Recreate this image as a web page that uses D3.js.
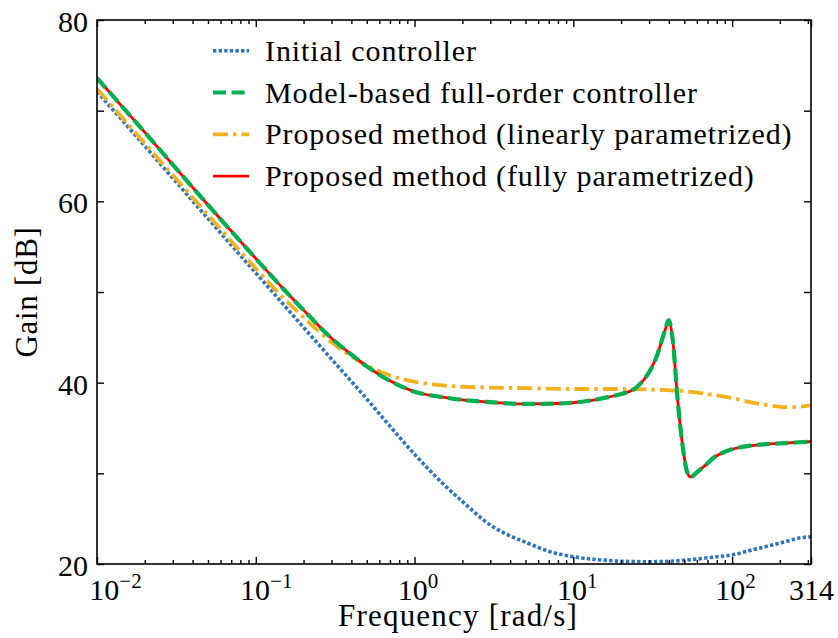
<!DOCTYPE html>
<html>
<head>
<meta charset="utf-8">
<script src="https://cdn.jsdelivr.net/npm/d3@7"></script>
<style>
  body { margin: 0; background: #fff; }
  text { font-family: "Liberation Serif", "Times New Roman", serif; fill: #000; }
</style>
</head>
<body>
<svg id="chart" width="838" height="638"></svg>
<script>
// Controller gain curves (frequency in rad/s, gain in dB)
const initialFreq = [0.01, 0.02, 0.05, 0.1, 0.2, 0.3, 0.5, 0.7, 1, 1.5, 2, 3, 4, 5, 7, 10, 15, 20, 30, 40, 60, 80, 100, 130, 170, 220, 270, 314];
const initialGain = [72.1, 66.1, 58.1, 52.1, 46.1, 42.6, 38.2, 35.2, 32.1, 28.9, 26.9, 24.3, 23.1, 22.4, 21.4, 20.8, 20.45, 20.3, 20.25, 20.3, 20.55, 20.8, 21.0, 21.5, 22.0, 22.5, 22.9, 23.0];

const modelFreq = [0.01, 0.02, 0.05, 0.1, 0.15, 0.2, 0.3, 0.4, 0.5, 0.7, 1, 1.5, 2, 3, 5, 8, 12, 16, 20, 24, 28, 31, 34, 36, 38, 39.8, 42.3, 45.4, 48.9, 52, 54.6, 60.8, 70, 77.4, 88, 100, 125, 160, 200, 250, 314];
const modelGain = [73.6, 67.6, 59.6, 53.7, 50.3, 48.0, 44.9, 43.1, 41.8, 40.2, 39.0, 38.4, 38.1, 37.85, 37.65, 37.7, 37.95, 38.35, 38.75, 39.25, 40.4, 41.6, 43.2, 44.6, 45.9, 46.9, 44.7, 38.1, 32.9, 30.2, 29.6, 30.2, 31.1, 31.8, 32.3, 32.65, 33.0, 33.2, 33.3, 33.4, 33.5];

const linearFreq = [0.01, 0.02, 0.05, 0.1, 0.15, 0.2, 0.3, 0.4, 0.5, 0.7, 1, 1.5, 2, 3, 5, 10, 20, 30, 50, 70, 100, 130, 170, 220, 270, 314];
const linearGain = [72.4, 66.4, 58.5, 52.6, 49.3, 47.2, 44.45, 42.9, 41.9, 40.8, 40.1, 39.7, 39.55, 39.45, 39.4, 39.3, 39.3, 39.25, 39.05, 38.75, 38.3, 37.85, 37.5, 37.3, 37.35, 37.5];

const fullFreq = [0.01, 0.02, 0.05, 0.1, 0.15, 0.2, 0.3, 0.4, 0.5, 0.7, 1, 1.5, 2, 3, 5, 8, 12, 16, 20, 24, 28, 31, 34, 36, 38, 39.8, 42.3, 45.4, 48.9, 52, 54.6, 60.8, 70, 77.4, 88, 100, 125, 160, 200, 250, 314];
const fullGain = [73.6, 67.6, 59.6, 53.7, 50.3, 48.0, 44.9, 43.1, 41.8, 40.2, 39.0, 38.4, 38.1, 37.85, 37.65, 37.7, 37.95, 38.35, 38.75, 39.25, 40.4, 41.6, 43.2, 44.6, 45.9, 46.9, 44.7, 38.1, 32.9, 30.2, 29.6, 30.2, 31.1, 31.8, 32.3, 32.65, 33.0, 33.2, 33.3, 33.4, 33.5];

const seriesNames = [
  "Initial controller",
  "Model-based full-order controller",
  "Proposed method (linearly parametrized)",
  "Proposed method (fully parametrized)"
];

// x tick labels: [value, mantissa text, exponent text]
const xTickLabels = [[0.01, "10", "\u22122"], [0.1, "10", "\u22121"], [1, "10", "0"], [10, "10", "1"], [100, "10", "2"], [314, "314", ""]];
const yTicks = [20, 30, 40, 50, 60, 70, 80];
const yTickLabels = [20, 40, 60, 80];

const svg = d3.select("#chart");
const L = 97, R = 811, T = 20, B = 564;
const FONT = '"Liberation Serif", "Times New Roman", serif';

const x = d3.scaleLog().domain([0.01, 314]).range([L, R]);
const y = d3.scaleLinear().domain([20, 80]).range([B, T]);

svg.append("defs").append("clipPath").attr("id", "plotclip")
  .append("rect").attr("x", L).attr("y", T).attr("width", R - L).attr("height", B - T);

const styles = [
  { color: "#2f74bf", width: 3.6, dash: "3.4,2.2" },
  { color: "#00b050", width: 4.2, dash: "13,5.6" },
  { color: "#f2b21f", width: 3.8, dash: "15,5,3.5,5" },
  { color: "#ff0000", width: 2.8, dash: null }
];

const series = [
  { name: seriesNames[0], f: initialFreq, g: initialGain, s: styles[0] },
  { name: seriesNames[1], f: modelFreq, g: modelGain, s: styles[1] },
  { name: seriesNames[2], f: linearFreq, g: linearGain, s: styles[2] },
  { name: seriesNames[3], f: fullFreq, g: fullGain, s: styles[3] }
];

const line = d3.line().x(d => x(d[0])).y(d => y(d[1])).curve(d3.curveMonotoneX);

const plot = svg.append("g").attr("clip-path", "url(#plotclip)");
// draw order: initial, linear, full, then model-based dashes over the full curve
[0, 2, 3, 1].forEach(i => {
  const sr = series[i];
  plot.append("path")
    .datum(sr.f.map((f, k) => [f, sr.g[k]]))
    .attr("fill", "none")
    .attr("stroke", sr.s.color)
    .attr("stroke-width", sr.s.width)
    .attr("stroke-dasharray", sr.s.dash)
    .attr("d", line);
});

// Axes with inward ticks on all four sides
const majorX = xTickLabels.map(d => d[0]);
const minorX = x.ticks().filter(v => {
  const lg = Math.log10(v);
  return Math.abs(lg - Math.round(lg)) > 1e-9;
});

function styleAxis(g) {
  g.select(".domain").remove();
  g.selectAll(".tick line").attr("stroke", "#000").attr("stroke-width", 1.4);
}

const xb = svg.append("g").attr("transform", `translate(0,${B})`)
  .call(d3.axisBottom(x).tickValues(majorX).tickSizeInner(-7).tickSizeOuter(0).tickFormat(""));
styleAxis(xb);
svg.append("g").attr("transform", `translate(0,${B})`)
  .call(d3.axisBottom(x).tickValues(minorX).tickSizeInner(-4).tickSizeOuter(0).tickFormat(""))
  .call(styleAxis);
svg.append("g").attr("transform", `translate(0,${T})`)
  .call(d3.axisTop(x).tickValues(majorX).tickSizeInner(-7).tickSizeOuter(0).tickFormat(""))
  .call(styleAxis);
svg.append("g").attr("transform", `translate(0,${T})`)
  .call(d3.axisTop(x).tickValues(minorX).tickSizeInner(-4).tickSizeOuter(0).tickFormat(""))
  .call(styleAxis);

const yl = svg.append("g").attr("transform", `translate(${L},0)`)
  .call(d3.axisLeft(y).tickValues(yTicks).tickSizeInner(-7).tickSizeOuter(0)
    .tickFormat(d => yTickLabels.includes(d) ? String(d) : ""));
styleAxis(yl);
yl.selectAll(".tick text")
  .attr("x", -9).attr("dy", "11.5px")
  .style("font-size", "30px").style("font-family", FONT)
  .attr("fill", "#000");

svg.append("g").attr("transform", `translate(${R},0)`)
  .call(d3.axisRight(y).tickValues(yTicks).tickSizeInner(-7).tickSizeOuter(0).tickFormat(""))
  .call(styleAxis);

// x tick labels with superscript exponents
const labelShift = { 0.01: 18, 0.1: 10, 1: 3, 10: 3.5, 100: 3, 314: 0 };
xb.selectAll(".tick").each(function (d) {
  const lab = xTickLabels.find(t => t[0] === d);
  const t = d3.select(this).select("text");
  t.text(null)
    .attr("y", 36).attr("dy", null)
    .attr("x", labelShift[d])
    .attr("text-anchor", "middle")
    .style("font-size", "30px").style("font-family", FONT)
    .attr("fill", "#000");
  t.append("tspan").text(lab[1]);
  if (lab[2]) {
    t.append("tspan").attr("dy", -12).style("font-size", "21px").text(lab[2]);
  }
});

// Frame
svg.append("rect").attr("x", L).attr("y", T).attr("width", R - L).attr("height", B - T)
  .attr("fill", "none").attr("stroke", "#000").attr("stroke-width", 1.6);

// Axis titles
svg.append("text").attr("x", 458).attr("y", 626).attr("text-anchor", "middle")
  .style("font-size", "31px").style("letter-spacing", "1.2px").text("Frequency [rad/s]");
svg.append("text").attr("transform", "translate(37,292) rotate(-90)").attr("text-anchor", "middle")
  .style("font-size", "31px").style("letter-spacing", "0.7px").text("Gain [dB]");

// Legend
const legend = svg.append("g");
series.forEach((sr, i) => {
  const ly = 50.7 + i * 41.8;
  legend.append("line").attr("x1", 213).attr("x2", 249).attr("y1", ly).attr("y2", ly)
    .attr("stroke", sr.s.color).attr("stroke-width", sr.s.width)
    .attr("stroke-dasharray", sr.s.dash);
  legend.append("text").attr("x", 265).attr("y", ly + 10)
    .style("font-size", "30px").style("letter-spacing", "0.9px").text(sr.name);
});
</script>
</body>
</html>
